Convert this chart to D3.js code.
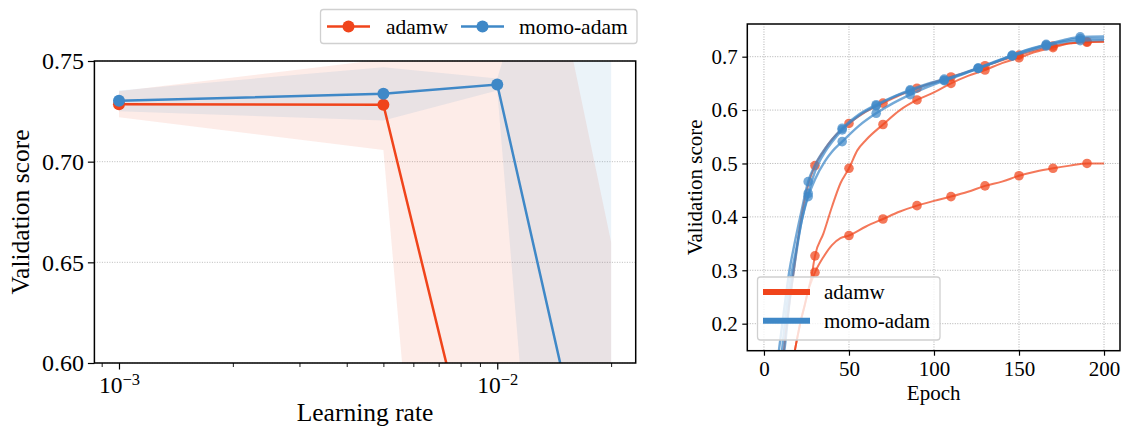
<!DOCTYPE html>
<html>
<head>
<meta charset="utf-8">
<script src="https://cdn.jsdelivr.net/npm/d3@7"></script>
<style>
  html, body { margin: 0; padding: 0; background: #fff; }
  svg { display: block; font-family: "Liberation Serif", "Times New Roman", serif; }
</style>
</head>
<body>
<svg id="chart" width="1122" height="428"></svg>
<script>
// ---------- Learning-rate sweep ----------
const learningRates = [1e-3, 5e-3, 1e-2, 2e-2];
const adamwMean = [0.7285, 0.7283, 0.496, 0.20];
const adamwStd  = [0.0065, 0.0225, 0.435, 0.46];
const momoMean  = [0.7302, 0.7337, 0.7383, 0.488];
const momoStd   = [0.0052, 0.0132, 0.0030, 0.440];
const lrTicks    = [1e-3, 1e-2];
const scoreTicks = [0.60, 0.65, 0.70, 0.75];

// ---------- Validation curves per epoch ----------
const adamwLr5e3Epochs = [11, 15, 18, 22, 26, 30, 35, 40, 45, 50, 60, 70, 80, 90, 100, 110, 120, 130, 140, 150, 160, 170, 180, 190, 200];
const adamwLr5e3Values = [0.13, 0.24, 0.31, 0.40, 0.46, 0.496, 0.523, 0.545, 0.562, 0.575, 0.597, 0.613, 0.628, 0.641, 0.652, 0.662, 0.672, 0.683, 0.693, 0.703, 0.712, 0.720, 0.725, 0.728, 0.728];
const adamwLr1e3Epochs = [17, 20, 22, 24, 26, 28, 30, 35, 40, 45, 50, 55, 60, 70, 80, 90, 100, 110, 120, 130, 140, 150, 160, 170, 180, 190, 200];
const adamwLr1e3Values = [0.13, 0.18, 0.21, 0.235, 0.262, 0.29, 0.327, 0.369, 0.419, 0.463, 0.491, 0.525, 0.544, 0.573, 0.600, 0.619, 0.633, 0.650, 0.664, 0.675, 0.688, 0.698, 0.709, 0.717, 0.725, 0.727, 0.7285];
const adamwLr1e2Epochs = [17, 20, 22, 24, 26, 28, 30, 35, 40, 45, 50, 60, 70, 80, 90, 100, 110, 120, 130, 140, 150, 160, 170, 180, 190, 200];
const adamwLr1e2Values = [0.13, 0.18, 0.21, 0.235, 0.262, 0.28, 0.296, 0.325, 0.347, 0.36, 0.365, 0.382, 0.396, 0.41, 0.421, 0.43, 0.438, 0.447, 0.458, 0.466, 0.477, 0.485, 0.491, 0.496, 0.500, 0.500];

const momoLr1e2Epochs = [8, 12, 15, 18, 22, 26, 30, 36, 40, 46, 56, 66, 76, 86, 96, 106, 116, 126, 136, 146, 156, 166, 176, 186, 200];
const momoLr1e2Values = [0.13, 0.23, 0.30, 0.35, 0.41, 0.466, 0.497, 0.528, 0.545, 0.566, 0.592, 0.610, 0.625, 0.638, 0.649, 0.658, 0.668, 0.679, 0.691, 0.703, 0.714, 0.723, 0.731, 0.737, 0.738];
const momoLr5e3Epochs = [10, 13, 16, 19, 22, 26, 30, 36, 40, 46, 56, 66, 76, 86, 96, 106, 116, 126, 136, 146, 156, 166, 176, 186, 200];
const momoLr5e3Values = [0.13, 0.22, 0.29, 0.34, 0.39, 0.444, 0.485, 0.522, 0.54, 0.563, 0.59, 0.608, 0.624, 0.636, 0.647, 0.656, 0.667, 0.678, 0.690, 0.702, 0.713, 0.722, 0.729, 0.734, 0.734];
const momoLr1e3Epochs = [11, 12, 15, 18, 22, 26, 30, 36, 40, 46, 56, 66, 76, 86, 96, 106, 116, 126, 136, 146, 156, 166, 176, 186, 200];
const momoLr1e3Values = [0.13, 0.15, 0.24, 0.31, 0.39, 0.438, 0.47, 0.505, 0.522, 0.541, 0.571, 0.594, 0.613, 0.629, 0.643, 0.655, 0.666, 0.678, 0.690, 0.701, 0.711, 0.720, 0.727, 0.730, 0.731];

const adamwMarkEpochs = [30, 50, 70, 90, 110, 130, 150, 170, 190];
const momoMarkEpochs  = [26, 46, 66, 86, 106, 126, 146, 166, 186];
const epochTicks = [0, 50, 100, 150, 200];
const curveScoreTicks = [0.2, 0.3, 0.4, 0.5, 0.6, 0.7];

const seriesNames = ["adamw", "momo-adam"];
const ORANGE = "#F0441B";
const BLUE = "#3F88C7";

const svg = d3.select("#chart");
const FONT = '"Liberation Serif", "Times New Roman", serif';

function styleAxis(g, fontSize) {
  g.select(".domain").remove();
  g.selectAll(".tick line").attr("stroke", "#000").attr("stroke-width", 1.2);
  g.selectAll(".tick text").attr("fill", "#000")
    .attr("font-family", FONT).attr("font-size", fontSize);
}

// ======================= Left panel =======================
const L = { left: 94.4, right: 635.7, top: 61, bottom: 363 };
const xL = d3.scaleLog().domain([Math.pow(10, -3.065), Math.pow(10, -1.634)]).range([L.left, L.right]);
const yL = d3.scaleLinear().domain([0.60, 0.75]).range([L.bottom, L.top]);

svg.append("clipPath").attr("id", "clipL")
  .append("rect").attr("x", L.left).attr("y", L.top)
  .attr("width", L.right - L.left).attr("height", L.bottom - L.top);

// horizontal grid
svg.append("g").selectAll("line").data(scoreTicks).join("line")
  .attr("x1", L.left).attr("x2", L.right)
  .attr("y1", d => yL(d)).attr("y2", d => yL(d))
  .attr("stroke", "#b4b4b4").attr("stroke-width", 0.9).attr("stroke-dasharray", "1,1.5");

const sweep = [
  { name: "adamw", color: ORANGE, mean: adamwMean, std: adamwStd },
  { name: "momo-adam", color: BLUE, mean: momoMean, std: momoStd }
].map(s => ({ ...s, pts: learningRates.map((lr, i) => ({ lr, m: s.mean[i], s: s.std[i] })) }));

const plotL = svg.append("g").attr("clip-path", "url(#clipL)");
const bandArea = d3.area().x(d => xL(d.lr)).y0(d => yL(d.m - d.s)).y1(d => yL(d.m + d.s));
sweep.forEach(s => {
  plotL.append("path").attr("d", bandArea(s.pts)).attr("fill", s.color).attr("fill-opacity", 0.1);
});
const meanLine = d3.line().x(d => xL(d.lr)).y(d => yL(d.m));
sweep.forEach(s => {
  plotL.append("path").attr("d", meanLine(s.pts)).attr("fill", "none")
    .attr("stroke", s.color).attr("stroke-width", 2.5);
  plotL.selectAll(null).data(s.pts).join("circle")
    .attr("cx", d => xL(d.lr)).attr("cy", d => yL(d.m)).attr("r", 6)
    .attr("fill", s.color);
});

// axes
const yAxisL = svg.append("g").attr("transform", `translate(${L.left},0)`)
  .call(d3.axisLeft(yL).tickValues(scoreTicks).tickFormat(d3.format(".2f")).tickSize(6.5).tickPadding(4));
styleAxis(yAxisL, 24);

const minorLr = xL.ticks().filter(v => !lrTicks.some(t => Math.abs(t - v) < 1e-12));
const xMinorL = svg.append("g").attr("transform", `translate(0,${L.bottom})`)
  .call(d3.axisBottom(xL).tickValues(minorLr).tickFormat("").tickSize(4));
styleAxis(xMinorL, 24);
xMinorL.selectAll(".tick line").attr("stroke-width", 0.9);

const xAxisL = svg.append("g").attr("transform", `translate(0,${L.bottom})`)
  .call(d3.axisBottom(xL).tickValues(lrTicks).tickFormat("").tickSize(6.5));
styleAxis(xAxisL, 24);
xAxisL.selectAll(".tick text").remove();
xAxisL.selectAll(".tick").append("text")
  .attr("y", 30).attr("text-anchor", "middle").attr("fill", "#000")
  .attr("font-family", FONT).attr("font-size", 23.5)
  .each(function (d) {
    const t = d3.select(this);
    t.append("tspan").text("10");
    t.append("tspan").attr("font-size", 16.5).attr("dy", -8)
      .text("\u2212" + Math.abs(Math.round(Math.log10(d))));
  });

svg.append("rect").attr("x", L.left).attr("y", L.top)
  .attr("width", L.right - L.left).attr("height", L.bottom - L.top)
  .attr("fill", "none").attr("stroke", "#000").attr("stroke-width", 1.5);

svg.append("text").attr("x", (L.left + L.right) / 2).attr("y", 421)
  .attr("text-anchor", "middle").attr("font-size", 25.5).attr("fill", "#000")
  .text("Learning rate");
svg.append("text").attr("transform", `translate(29,${(L.top + L.bottom) / 2}) rotate(-90)`)
  .attr("text-anchor", "middle").attr("font-size", 25.5).attr("fill", "#000")
  .text("Validation score");

// legend above the panel
const legL = svg.append("g");
legL.append("rect").attr("x", 320.5).attr("y", 9.5).attr("width", 316.5).attr("height", 34)
  .attr("rx", 3).attr("fill", "#fff").attr("stroke", "#d0d0d0").attr("stroke-width", 1.3);
const legLItems = [
  { name: seriesNames[0], color: ORANGE, x0: 327, tx: 386 },
  { name: seriesNames[1], color: BLUE, x0: 461, tx: 519 }
];
legLItems.forEach(it => {
  legL.append("line").attr("x1", it.x0).attr("x2", it.x0 + 43).attr("y1", 26.5).attr("y2", 26.5)
    .attr("stroke", it.color).attr("stroke-width", 2.5);
  legL.append("circle").attr("cx", it.x0 + 21.5).attr("cy", 26.5).attr("r", 6).attr("fill", it.color);
  legL.append("text").attr("x", it.tx).attr("y", 33.5).attr("font-size", 21.5).attr("fill", "#000")
    .text(it.name);
});

// ======================= Right panel =======================
const R = { left: 747.3, right: 1120, top: 24, bottom: 350.7 };
const xR = d3.scaleLinear().domain([-9.8, 209.4]).range([R.left, R.right]);
const yR = d3.scaleLinear().domain([0.1494, 0.7612]).range([R.bottom, R.top]);

svg.append("clipPath").attr("id", "clipR")
  .append("rect").attr("x", R.left).attr("y", R.top)
  .attr("width", R.right - R.left).attr("height", R.bottom - R.top);

const gridR = svg.append("g").attr("stroke", "#a8a8a8").attr("stroke-width", 0.9).attr("stroke-dasharray", "1,1.5");
gridR.selectAll(".gx").data(epochTicks).join("line")
  .attr("x1", d => xR(d)).attr("x2", d => xR(d)).attr("y1", R.top).attr("y2", R.bottom);
gridR.selectAll(".gy").data(curveScoreTicks).join("line")
  .attr("x1", R.left).attr("x2", R.right).attr("y1", d => yR(d)).attr("y2", d => yR(d));

const runs = [
  { color: ORANGE, width: 2, epochs: adamwLr1e2Epochs, values: adamwLr1e2Values, marks: adamwMarkEpochs },
  { color: ORANGE, width: 2, epochs: adamwLr1e3Epochs, values: adamwLr1e3Values, marks: adamwMarkEpochs },
  { color: ORANGE, width: 2, epochs: adamwLr5e3Epochs, values: adamwLr5e3Values, marks: adamwMarkEpochs },
  { color: BLUE, width: 2.4, epochs: momoLr1e3Epochs, values: momoLr1e3Values, marks: momoMarkEpochs },
  { color: BLUE, width: 2.4, epochs: momoLr5e3Epochs, values: momoLr5e3Values, marks: momoMarkEpochs },
  { color: BLUE, width: 2.4, epochs: momoLr1e2Epochs, values: momoLr1e2Values, marks: momoMarkEpochs }
];

const plotR = svg.append("g").attr("clip-path", "url(#clipR)");
const curveLine = d3.line().x(d => xR(d.e)).y(d => yR(d.v)).curve(d3.curveMonotoneX);
runs.forEach(run => {
  const pts = run.epochs.map((e, i) => ({ e, v: run.values[i] }));
  plotR.append("path").attr("d", curveLine(pts)).attr("fill", "none")
    .attr("stroke", run.color).attr("stroke-width", run.width).attr("stroke-opacity", 0.72);
  plotR.selectAll(null).data(pts.filter(p => run.marks.includes(p.e))).join("circle")
    .attr("cx", d => xR(d.e)).attr("cy", d => yR(d.v)).attr("r", 4.8)
    .attr("fill", run.color).attr("fill-opacity", 0.72);
});

const yAxisR = svg.append("g").attr("transform", `translate(${R.left},0)`)
  .call(d3.axisLeft(yR).tickValues(curveScoreTicks).tickFormat(d3.format(".1f")).tickSize(5).tickPadding(4.5));
styleAxis(yAxisR, 21);
const xAxisR = svg.append("g").attr("transform", `translate(0,${R.bottom})`)
  .call(d3.axisBottom(xR).tickValues(epochTicks).tickFormat(d3.format("d")).tickSize(5).tickPadding(4));
styleAxis(xAxisR, 21);
xAxisR.selectAll(".tick text").attr("dy", null).attr("y", 25);

svg.append("rect").attr("x", R.left).attr("y", R.top)
  .attr("width", R.right - R.left).attr("height", R.bottom - R.top)
  .attr("fill", "none").attr("stroke", "#000").attr("stroke-width", 1.5);

svg.append("text").attr("x", (R.left + R.right) / 2).attr("y", 400)
  .attr("text-anchor", "middle").attr("font-size", 21).attr("fill", "#000").text("Epoch");
svg.append("text").attr("transform", `translate(701.5,${(R.top + R.bottom) / 2}) rotate(-90)`)
  .attr("text-anchor", "middle").attr("font-size", 21).attr("fill", "#000").text("Validation score");

// legend inside the lower-left corner
const legR = svg.append("g");
legR.append("rect").attr("x", 757.5).attr("y", 277).attr("width", 182.5).attr("height", 63)
  .attr("rx", 3).attr("fill", "#fff").attr("fill-opacity", 0.8)
  .attr("stroke", "#d0d0d0").attr("stroke-width", 1.3);
[{ name: seriesNames[0], color: ORANGE, y: 292 }, { name: seriesNames[1], color: BLUE, y: 320.7 }]
  .forEach(it => {
    legR.append("line").attr("x1", 763).attr("x2", 810).attr("y1", it.y).attr("y2", it.y)
      .attr("stroke", it.color).attr("stroke-width", 6);
    legR.append("text").attr("x", 824).attr("y", it.y + 7).attr("font-size", 21).attr("fill", "#000")
      .text(it.name);
  });
</script>
</body>
</html>
